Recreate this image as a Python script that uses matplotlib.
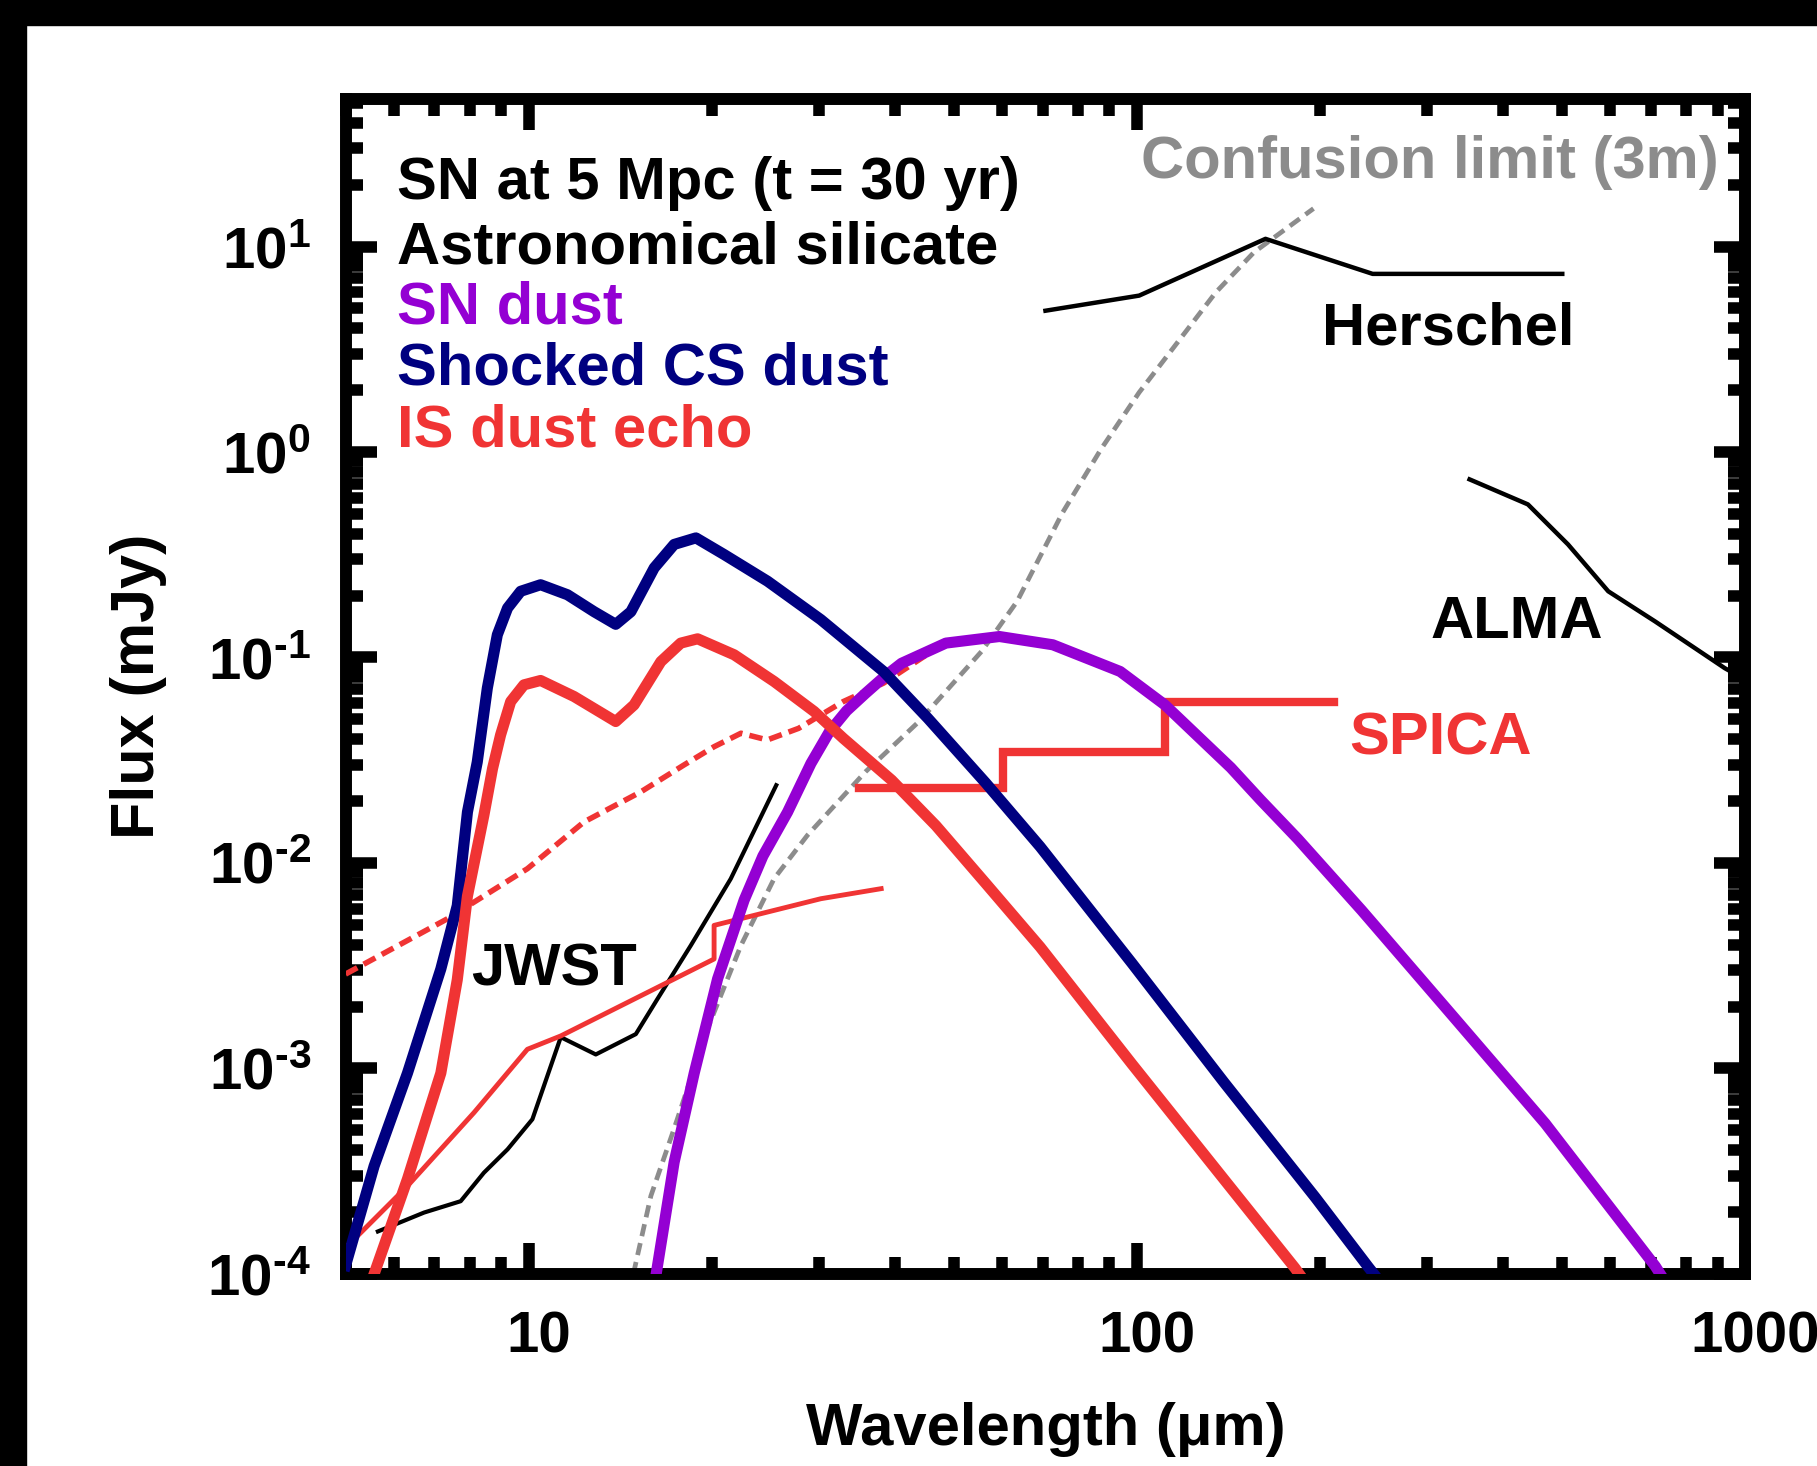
import numpy as np
import matplotlib.pyplot as plt
from matplotlib.patches import Rectangle
from matplotlib.transforms import ScaledTranslation

plt.rcParams['font.family'] = ['Liberation Sans', 'DejaVu Sans']
plt.rcParams['font.weight'] = 'bold'
plt.rcParams['mathtext.fontset'] = 'custom'
plt.rcParams['mathtext.rm'] = 'Liberation Sans:bold'
plt.rcParams['mathtext.bf'] = 'Liberation Sans:bold'
plt.rcParams['mathtext.default'] = 'bf'

########### data (wavelength in um, flux in mJy)
shocked_x = [5.0, 5.57, 6.32, 7.17, 7.63, 7.93, 8.23, 8.55, 8.88, 9.23, 9.70, 10.46, 11.58,
             12.81, 13.90, 14.72, 16.08, 17.34, 18.83, 20.95, 24.70, 30.2, 38.3, 45.3, 56.4,
             69.3, 98.1, 138.8, 196.5, 240, 260]
shocked_y = [1.1e-4, 3.35e-4, 9.5e-4, 3.05e-3, 6.2e-3, 0.0177, 0.031, 0.071, 0.129, 0.174,
             0.210, 0.226, 0.202, 0.167, 0.145, 0.167, 0.273, 0.355, 0.382, 0.317, 0.235,
             0.153, 0.0855, 0.0506, 0.0245, 0.0120, 3.25e-3, 8.6e-4, 2.35e-4, 1.08e-4, 8.0e-5]

echo_x = [5.57, 6.32, 7.17, 7.63, 7.93, 8.44, 8.72, 8.99, 9.34, 9.82, 10.46, 11.87, 13.90,
          14.90, 16.49, 17.78, 18.95, 21.76, 25.32, 29.46, 32.9, 39.5, 46.7, 56.3, 69.3,
          98.1, 138.8, 181.7, 195]
echo_y = [1.0e-4, 2.9e-4, 9.5e-4, 2.7e-3, 6.9e-3, 0.0171, 0.0288, 0.042, 0.061, 0.0736,
          0.0773, 0.0646, 0.0488, 0.0588, 0.0955, 0.1175, 0.1233, 0.1031, 0.0764, 0.0546,
          0.0404, 0.0253, 0.0152, 8.0e-3, 3.9e-3, 1.05e-3, 2.9e-4, 1.07e-4, 8.0e-5]

sn_x = [16.2, 17.34, 18.71, 20.44, 22.6, 24.26, 26.64, 29.1, 31.2, 33.3, 35.8, 38.5, 41.0,
        48.5, 59.4, 72.7, 93.8, 111.1, 142.6, 159.5, 183.7, 233.9, 330.9, 468.7, 711, 760]
sn_y = [1.0e-4, 3.5e-4, 9.5e-4, 2.73e-3, 6.6e-3, 0.0108, 0.0177, 0.0305, 0.0435, 0.055,
        0.067, 0.081, 0.0937, 0.1175, 0.1265, 0.1153, 0.0855, 0.0588, 0.0291, 0.0203,
        0.0131, 5.89e-3, 1.79e-3, 5.4e-4, 1.09e-4, 8.0e-5]

conf_x = [14.86, 15.88, 17.34, 19.67, 22.33, 25.32, 28.72, 35.78, 43.8, 55.5, 63.5, 75.4,
          87.2, 100.8, 116.5, 134.7, 155.7, 195]
conf_y = [1.0e-4, 2.4e-4, 5.1e-4, 1.56e-3, 3.97e-3, 8.4e-3, 0.01365, 0.0278, 0.0488, 0.107,
          0.1875, 0.506, 1.03, 1.95, 3.41, 5.98, 9.38, 15.3]

herschel_x = [70.7, 100.8, 162.6, 243.9, 500]
herschel_y = [4.87, 5.77, 10.9, 7.36, 7.36]

alma_x = [352, 439, 511, 595, 710, 925, 1000]
alma_y = [0.736, 0.556, 0.355, 0.210, 0.150, 0.0887, 0.078]

jwst_x = [5.65, 6.73, 7.73, 8.44, 9.23, 10.14, 11.29, 12.89, 15.0, 16.28, 18.47, 21.48, 25.52]
jwst_y = [1.61e-4, 1.99e-4, 2.26e-4, 3.11e-4, 4.04e-4, 5.66e-4, 1.42e-3, 1.17e-3, 1.47e-3,
          2.18e-3, 3.97e-3, 8.37e-3, 0.0239]

thin_x = [5.0, 6.32, 8.13, 9.95, 11.29, 20.17, 20.17, 30.21, 37.96]
thin_y = [1.34e-4, 2.68e-4, 6.1e-4, 1.24e-3, 1.44e-3, 3.41e-3, 4.97e-3, 6.70e-3, 7.50e-3]

dash_x = [5.0, 7.35, 9.95, 12.33, 15.29, 18.0, 20.17, 22.33, 24.67, 27.77, 32.88, 38.3, 47.3]
dash_y = [2.88e-3, 5.35e-3, 9.38e-3, 0.01585, 0.0222, 0.030, 0.0368, 0.0428, 0.0397, 0.0452,
          0.0610, 0.0750, 0.1132]

spica_x = [34.9, 60.2, 60.2, 111.1, 111.1, 211]
spica_y = [0.0232, 0.0232, 0.0348, 0.0348, 0.0610, 0.0610]

x_ticks = [10, 100, 1000]
x_ticklabels = ['10', '100', '1000']
y_ticks = [1e-4, 1e-3, 1e-2, 1e-1, 1e0, 1e1]
y_ticklabels = [r'$10^{\text{-}4}$', r'$10^{\text{-}3}$', r'$10^{\text{-}2}$',
                r'$10^{\text{-}1}$', r'$10^{0}$', r'$10^{1}$']

navy = '#000080'
red = '#f03434'
purple = '#9400d3'
grey = '#8c8c8c'

fig = plt.figure(figsize=(18.17, 14.66), dpi=100)
ax = fig.add_axes([0.1902, 0.1310, 0.7704, 0.8012])

# black frame of the scanned picture
fig.patches.append(Rectangle((0, 1 - 25 / 1466), 1, 25 / 1466, transform=fig.transFigure,
                             color='black', zorder=10))
fig.patches.append(Rectangle((0, 0), 26 / 1817, 1, transform=fig.transFigure,
                             color='black', zorder=10))

ax.plot(conf_x, conf_y, color=grey, lw=3.4, dashes=(2.6, 1.5), zorder=2)
ax.plot(herschel_x, herschel_y, color='black', lw=3.2, zorder=3)
ax.plot(alma_x, alma_y, color='black', lw=3.2, zorder=3)
ax.plot(jwst_x, jwst_y, color='black', lw=3.0, zorder=3)
ax.plot(thin_x, thin_y, color=red, lw=3.5, zorder=3)
ax.plot(dash_x, dash_y, color=red, lw=4.0, dashes=(2.4, 1.3), zorder=3)
ax.plot(spica_x, spica_y, color=red, lw=6.0, solid_joinstyle='miter', zorder=3)
ax.plot(sn_x, sn_y, color=purple, lw=8.0, zorder=4)
ax.plot(shocked_x, shocked_y, color=navy, lw=8.0, zorder=4)
ax.plot(echo_x, echo_y, color=red, lw=8.0, zorder=5)

ax.set_xscale('log')
ax.set_yscale('log')
ax.set_xlim(5, 1000)
ax.set_ylim(1e-4, 52)

for s in ax.spines.values():
    s.set_linewidth(8.6)

ax.tick_params(which='both', direction='in', top=True, right=True, width=8.3)
ax.tick_params(which='major', length=22, labelsize=42)
ax.tick_params(which='minor', length=12.5)
ax.tick_params(axis='x', which='major', pad=26)
ax.tick_params(axis='y', which='major', pad=25)

ax.set_xticks(x_ticks)
ax.set_xticklabels(x_ticklabels, fontweight='bold')
ax.set_yticks(y_ticks)
ax.set_yticklabels(y_ticklabels)
ax.yaxis.set_minor_formatter(plt.NullFormatter())
ax.xaxis.set_minor_formatter(plt.NullFormatter())

offset = ScaledTranslation(0.10, 0, fig.dpi_scale_trans)
for lab in ax.get_xticklabels():
    lab.set_transform(lab.get_transform() + offset)

ax.text(0.5, -0.1456, 'Wavelength (\u03bcm)', transform=ax.transAxes, fontsize=43,
        fontweight='bold', ha='center', va='baseline')
ax.text(-0.1368, 0.5, 'Flux (mJy)', transform=ax.transAxes, fontsize=44, fontweight='bold',
        rotation=90, rotation_mode='anchor', ha='center', va='baseline')

fs = 43
ax.text(0.0368, 0.9152, 'SN at 5 Mpc (t = 30 yr)', transform=ax.transAxes, fontsize=fs,
        fontweight='bold', color='black', va='baseline')
ax.text(0.0368, 0.8607, 'Astronomical silicate', transform=ax.transAxes, fontsize=fs,
        fontweight='bold', color='black', va='baseline')
ax.text(0.0368, 0.8096, 'SN dust', transform=ax.transAxes, fontsize=fs,
        fontweight='bold', color=purple, va='baseline')
ax.text(0.0368, 0.7569, 'Shocked CS dust', transform=ax.transAxes, fontsize=fs,
        fontweight='bold', color=navy, va='baseline')
ax.text(0.0368, 0.7041, 'IS dust echo', transform=ax.transAxes, fontsize=fs,
        fontweight='bold', color=red, va='baseline')

ax.text(0.5682, 0.9331, 'Confusion limit (3m)', transform=ax.transAxes, fontsize=fs,
        fontweight='bold', color=grey, va='baseline')
ax.text(0.6975, 0.7917, 'Herschel', transform=ax.transAxes, fontsize=fs,
        fontweight='bold', color='black', va='baseline')
ax.text(0.7754, 0.5415, 'ALMA', transform=ax.transAxes, fontsize=fs,
        fontweight='bold', color='black', va='baseline')
ax.text(0.0896, 0.2452, 'JWST', transform=ax.transAxes, fontsize=fs,
        fontweight='bold', color='black', va='baseline')
ax.text(0.7168, 0.4419, 'SPICA', transform=ax.transAxes, fontsize=fs,
        fontweight='bold', color=red, va='baseline')

fig.savefig('out.png', dpi=100)
